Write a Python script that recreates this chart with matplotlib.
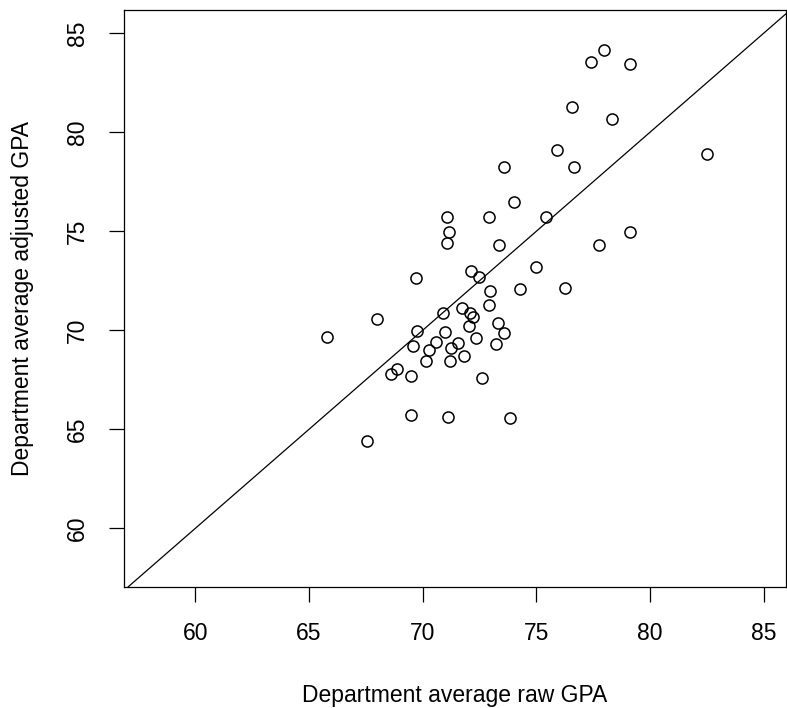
import numpy as np
import matplotlib
matplotlib.use("Agg")
import matplotlib.pyplot as plt

plt.rcParams['font.family'] = ['Liberation Sans', 'DejaVu Sans']

# department averages: raw GPA (x) vs adjusted GPA (y)
raw_gpa = [68.01, 70.91, 71.72, 72.08, 72.23, 72.90, 73.33, 73.59, 72.05, 72.35,
           73.23, 70.98, 69.74, 69.59, 70.57, 70.29, 71.23, 71.53, 71.82, 70.15,
           71.20, 68.86, 68.60, 69.49, 72.60, 69.49, 71.10, 73.85, 67.54,
           74.02, 71.07, 72.92, 75.42, 71.14, 71.07, 73.37, 69.71, 72.11, 72.49,
           74.98, 72.94, 74.29, 76.27,
           77.98, 77.40, 79.11, 76.58, 78.34, 75.92, 82.48, 73.59, 76.65, 79.11,
           77.75, 65.80]
adj_gpa = [70.59, 70.89, 71.13, 70.86, 70.65, 71.29, 70.35, 69.87, 70.19, 69.62,
           69.32, 69.93, 69.98, 69.20, 69.40, 69.01, 69.09, 69.35, 68.71, 68.43,
           68.44, 68.06, 67.77, 67.69, 67.59, 65.73, 65.60, 65.56, 64.39,
           76.47, 75.73, 75.73, 75.73, 74.96, 74.40, 74.28, 72.62, 72.97, 72.70,
           73.19, 71.96, 72.08, 72.15,
           84.15, 83.53, 83.43, 81.27, 80.65, 79.09, 78.89, 78.25, 78.22, 74.96,
           74.28, 69.68]
ticks = [60, 65, 70, 75, 80, 85]

fig = plt.figure(figsize=(7.87, 7.08), dpi=100)
ax = fig.add_axes([124 / 787, 1 - 586.7 / 708, (786 - 124) / 787, (586.7 - 10) / 708])

ax.plot(raw_gpa, adj_gpa, 'o', ms=8, mfc='none', mec='black', mew=1.1, zorder=3)
ax.axline((60, 60), slope=1, color='black', lw=0.9)

ax.set_xlim(56.87, 85.97)
ax.set_ylim(57.06, 86.16)
ax.set_xticks(ticks)
ax.set_yticks(ticks)
ax.tick_params(length=10.5, width=0.9, labelsize=16.5, pad=15)
for lab in ax.get_yticklabels():
    lab.set_rotation(90)
    lab.set_va('center')
for s in ax.spines.values():
    s.set_linewidth(0.9)

ax.set_xlabel('Department average raw GPA', fontsize=16.5, labelpad=28)
ax.set_ylabel('Department average adjusted GPA', fontsize=16.5, labelpad=23)

fig.savefig('out.png', dpi=100)
